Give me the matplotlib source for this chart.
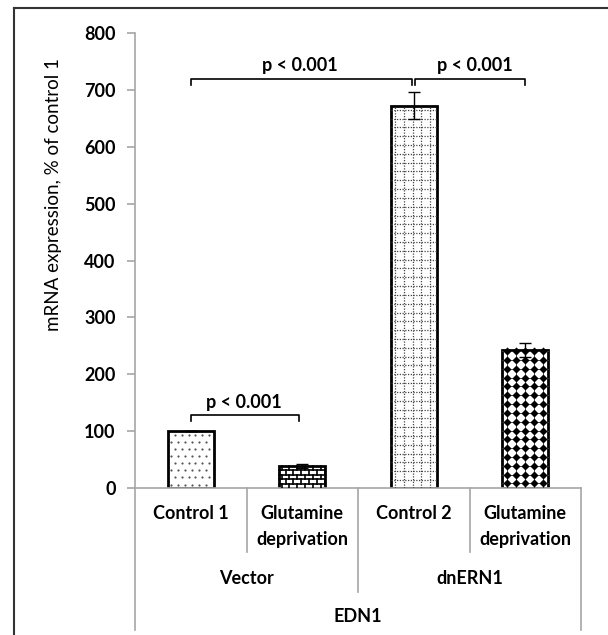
import matplotlib
matplotlib.use('Agg')
import matplotlib.pyplot as plt
import numpy as np
from matplotlib.lines import Line2D

plt.rcParams['font.family'] = ['Lato', 'DejaVu Sans']

categories = ['Control 1', 'Glutamine\ndeprivation', 'Control 2', 'Glutamine\ndeprivation']
groups = ['Vector', 'dnERN1']
gene = 'EDN1'
values = [100, 39, 672, 243]
errors = [0, 3, 24, 12]
yticks = [0, 100, 200, 300, 400, 500, 600, 700, 800]
p_label = 'p < 0.001'

fs = 13

fig = plt.figure(figsize=(6.08, 6.35), dpi=100)
ax = fig.add_axes([135/608, 1-488/635, 446/608, 455/635])

x = np.arange(len(values))
w = 0.41
bars = ax.bar(x, values, width=w, color='white', edgecolor='black', linewidth=2, zorder=2)
ax.errorbar(x, values, yerr=errors, fmt='none', ecolor='black', elinewidth=1, capsize=4, capthick=1, zorder=4)

# sparse dot pattern
b = bars[0]
x0, x1 = b.get_x(), b.get_x() + b.get_width()
px, py = [], []
for i, yy in enumerate(np.arange(6, values[0], 12.5)):
    off = 0 if i % 2 == 0 else 0.031
    for xx in np.arange(x0 + 0.03 + off, x1 - 0.01, 0.062):
        px.append(xx)
        py.append(yy)
ax.scatter(px, py, s=2.5, color='#555555', linewidths=0, zorder=3, clip_path=b)

# brick pattern
b = bars[1]
x0, x1 = b.get_x(), b.get_x() + b.get_width()
rows = np.linspace(0, values[1], 6)
for yy in rows[1:-1]:
    ax.plot([x0, x1], [yy, yy], color='black', lw=1.2, zorder=3, clip_path=b)
for i in range(len(rows) - 1):
    off = 0 if i % 2 == 0 else 0.035
    for xx in np.arange(x0 + 0.02 + off, x1, 0.07):
        ax.plot([xx, xx], [rows[i], rows[i+1]], color='black', lw=1.2, zorder=3, clip_path=b)

# dotted grid pattern
b = bars[2]
x0, x1 = b.get_x(), b.get_x() + b.get_width()
for xx in np.arange(x0 + 0.04, x1, 0.078):
    ax.plot([xx, xx], [0, values[2]], color='#444444', lw=0.9, ls=(0, (1, 1.2)), zorder=3, clip_path=b)
for yy in np.arange(14, values[2], 15.5):
    ax.plot([x0, x1], [yy, yy], color='#444444', lw=0.9, ls=(0, (1, 1.2)), zorder=3, clip_path=b)

# diamond pattern
b = bars[3]
x0, x1 = b.get_x(), b.get_x() + b.get_width()
dx = np.arange(x0 + 0.04, x1, 0.08)
dy = np.arange(8, values[3], 15.5)
gx, gy = np.meshgrid(dx, dy)
for xx in dx:
    ax.plot([xx, xx], [0, values[3]], color='#444444', lw=0.6, zorder=3, clip_path=b)
for yy in dy:
    ax.plot([x0, x1], [yy, yy], color='#444444', lw=0.6, zorder=3, clip_path=b)
ax.scatter(gx.ravel(), gy.ravel(), marker='D', s=17, color='black', zorder=3, clip_path=b, linewidths=0)

ax.set_xlim(-0.5, 3.5)
ax.set_ylim(0, 800)
ax.set_yticks(yticks)
ax.set_yticklabels([str(t) for t in yticks], fontsize=fs, fontweight='bold')
ax.set_xticks([])
for s in ['top', 'right']:
    ax.spines[s].set_visible(False)
for s in ['left', 'bottom']:
    ax.spines[s].set_color('#a6a6a6')
    ax.spines[s].set_linewidth(1.2)
ax.tick_params(axis='y', color='#a6a6a6', length=6, width=1.2, pad=8)
ax.set_ylabel('mRNA expression, % of control 1', fontsize=13.5)
ax.yaxis.set_label_coords(-0.164, 0.646)

# significance brackets
def bracket(xa, xb, y, drop, tx, ty):
    ax.plot([xa, xa, xb, xb], [y - drop, y, y, y - drop], color='black', lw=1.2, zorder=5, clip_on=False)
    ax.text(tx, ty, p_label, ha='center', va='center', fontsize=fs, fontweight='bold')

bracket(0, 0.97, 128, 10, 0.48, 150)
bracket(0, 1.985, 720, 12, 0.98, 742)
bracket(2.015, 3, 720, 12, 2.55, 742)

# category axis below
tr = ax.get_xaxis_transform()
seps = [(-0.5, -0.312), (0.5, -0.1407), (1.5, -0.2286), (2.5, -0.1407), (3.5, -0.312)]
for xs, ye in seps:
    ax.add_line(Line2D([xs, xs], [0, ye], transform=tr, color='#a6a6a6', lw=1.2, clip_on=False))
for i, c in enumerate(categories):
    ax.text(i, -0.038, c, transform=tr, ha='center', va='top', fontsize=fs,
            fontweight='bold', linespacing=1.6)
ax.text(0.5, -0.198, groups[0], transform=tr, ha='center', va='center', fontsize=fs, fontweight='bold')
ax.text(2.5, -0.198, groups[1], transform=tr, ha='center', va='center', fontsize=fs, fontweight='bold')
ax.text(1.5, -0.2835, gene, transform=tr, ha='center', va='center', fontsize=fs, fontweight='bold')

# outer frame (top and left only)
fig.add_artist(Line2D([14/608, 1], [1-8/635, 1-8/635], transform=fig.transFigure, color='#333333', lw=1.5))
fig.add_artist(Line2D([14/608, 14/608], [0, 1-8/635], transform=fig.transFigure, color='#333333', lw=1.5))

fig.savefig('out.png', dpi=100)
